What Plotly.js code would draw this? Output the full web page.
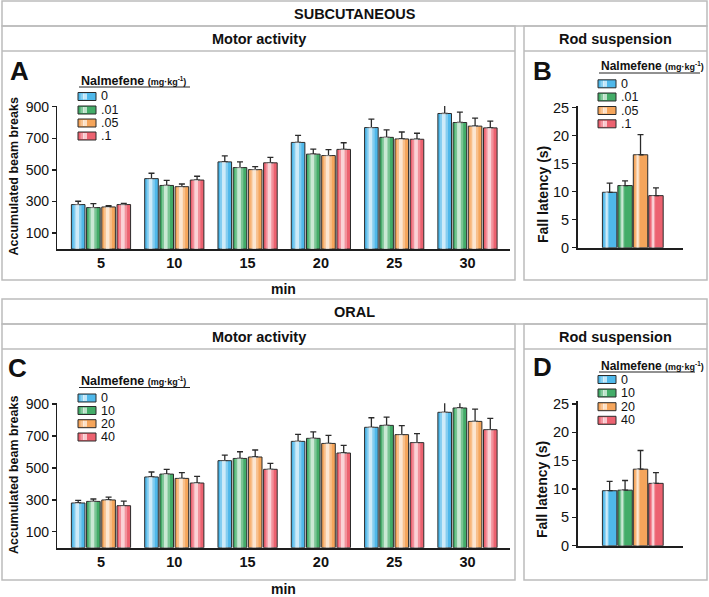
<!DOCTYPE html>
<html><head><meta charset="utf-8">
<script src="https://cdn.plot.ly/plotly-3.0.1.min.js"></script>
<style>html,body{margin:0;padding:0;background:#fff}#chart{width:709px;height:597px}</style>
</head><body><div id="chart"></div>
<script>
// ---------- data ----------
const minutes = ['5','10','15','20','25','30'];
const scDoses = ['0','.01','.05','.1'];
const oralDoses = ['0','10','20','40'];

// Subcutaneous – motor activity (accumulated beam breaks), mean and SEM
const scMotor0   = [281,445,551,674,768,857];
const scMotor01  = [262,402,515,600,706,800];
const scMotor05  = [266,394,502,591,696,777];
const scMotor1   = [281,436,545,630,694,766];
const scMotorErr0  = [21,34,38,45,53,66];
const scMotorErr01 = [25,32,36,32,47,66];
const scMotorErr05 = [8,17,19,37,44,51];
const scMotorErr1  = [8,24,34,42,38,43];

// Subcutaneous – rod suspension (fall latency, s)
const scRod    = [9.9,11.1,16.6,9.3];
const scRodErr = [1.65,0.85,3.6,1.4];

// Oral – motor activity
const oralMotor0  = [280,443,545,666,754,848];
const oralMotor10 = [290,461,559,685,766,875];
const oralMotor20 = [299,434,568,653,708,791];
const oralMotor40 = [263,405,491,593,658,739];
const oralMotorErr0  = [16,31,35,44,60,71];
const oralMotorErr10 = [15,30,42,41,52,37];
const oralMotorErr20 = [18,36,44,51,56,77];
const oralMotorErr40 = [29,42,37,48,56,71];

// Oral – rod suspension
const oralRod    = [9.7,9.8,13.5,11.0];
const oralRodErr = [1.65,1.7,3.3,1.9];

const motorTicks = [100,300,500,700,900];
const rodTicks = [0,5,10,15,20,25];

// ---------- styling ----------
const W = 709, H = 597;
const fx = x => x / W;
const fy = y => 1 - y / H;
const FONT = 'Liberation Sans, Arial, sans-serif';
const colors = ['#4fb8ea','#43ac68','#f5a55b','#ec6270'];
const outline = '#2b2b2b';
const frameColor = '#bcbcbc';

const slot = 0.2074, bw = 0.1855;
const offs = [0,1,2,3].map(k => -0.4038 + slot * k);

function zeros(n){ return new Array(n).fill(0); }

const traces = [];
function motorPanel(xa, ya, vals, errs, names) {
  vals.forEach((v, k) => {
    traces.push({
      type:'bar', x: minutes, y: v, xaxis: xa, yaxis: ya, name: names[k],
      width: bw, offset: offs[k], cliponaxis: false, showlegend: false, hoverinfo:'skip',
      marker: {color: colors[k], line: {color: outline, width: 1}},
      error_y: {type:'data', symmetric:false, array: errs[k], arrayminus: zeros(v.length),
                color: outline, thickness: 1.3, width: 3}
    });
  });
  vals.forEach((v, k) => {
    traces.push({
      type:'bar', x: minutes, y: v, xaxis: xa, yaxis: ya, showlegend:false, hoverinfo:'skip',
      width: 0.11, offset: offs[k] + 0.028, cliponaxis:false,
      marker: {color:'rgba(255,255,255,0.3)', line:{width:0}}
    });
    traces.push({
      type:'bar', x: minutes, y: v, xaxis: xa, yaxis: ya, showlegend:false, hoverinfo:'skip',
      width: 0.05, offset: offs[k] + 0.055, cliponaxis:false,
      marker: {color:'rgba(255,255,255,0.6)', line:{width:0}}
    });
  });
}
function rodPanel(xa, ya, doses, vals, errs) {
  traces.push({
    type:'bar', x: doses, y: vals, xaxis: xa, yaxis: ya, showlegend:false, hoverinfo:'skip',
    width: 0.935, offset: -0.4675, cliponaxis:false,
    marker: {color: colors, line: {color: outline, width: 1}},
    error_y: {type:'data', symmetric:false, array: errs, arrayminus: zeros(vals.length),
              color: outline, thickness: 1.3, width: 3}
  });
  traces.push({
    type:'bar', x: doses, y: vals, xaxis: xa, yaxis: ya, showlegend:false, hoverinfo:'skip',
    width: 0.28, offset: -0.33, cliponaxis:false,
    marker: {color:'rgba(255,255,255,0.3)', line:{width:0}}
  });
  traces.push({
    type:'bar', x: doses, y: vals, xaxis: xa, yaxis: ya, showlegend:false, hoverinfo:'skip',
    width: 0.13, offset: -0.25, cliponaxis:false,
    marker: {color:'rgba(255,255,255,0.6)', line:{width:0}}
  });
}

motorPanel('x','y',[scMotor0,scMotor01,scMotor05,scMotor1],
  [scMotorErr0,scMotorErr01,scMotorErr05,scMotorErr1], scDoses);
rodPanel('x2','y2', scDoses, scRod, scRodErr);
motorPanel('x3','y3',[oralMotor0,oralMotor10,oralMotor20,oralMotor40],
  [oralMotorErr0,oralMotorErr10,oralMotorErr20,oralMotorErr40], oralDoses);
rodPanel('x4','y4', oralDoses, oralRod, oralRodErr);

// ---------- axes ----------
const motorX = (dom, anchor) => ({
  domain: dom, anchor: anchor, type:'category', range:[-0.596, 5.58],
  showline:true, linecolor:'#1e1e1e', linewidth:2, ticks:'', showgrid:false, zeroline:false,
  tickfont:{family:FONT, size:14.5, color:'#111', weight:'bold'}, fixedrange:true
});
const motorY = (dom, anchor) => ({
  domain: dom, anchor: anchor, range:[0,905], tickvals: motorTicks,
  showline:true, linecolor:'#1e1e1e', linewidth:1.5, ticks:'outside', ticklen:4, tickwidth:1.5,
  tickcolor:'#1e1e1e', showgrid:false, zeroline:false,
  tickfont:{family:FONT, size:14, color:'#111'}, fixedrange:true
});
const rodX = (dom, anchor) => ({
  domain: dom, anchor: anchor, type:'category', range:[-2.08, 4.77],
  showline:true, linecolor:'#1e1e1e', linewidth:2, ticks:'', showticklabels:false,
  showgrid:false, zeroline:false, fixedrange:true
});
const rodY = (dom, anchor, top) => ({
  domain: dom, anchor: anchor, range:[0, top], tickvals: rodTicks,
  showline:true, linecolor:'#1e1e1e', linewidth:1.5, ticks:'outside', ticklen:4, tickwidth:1.5,
  tickcolor:'#1e1e1e', showgrid:false, zeroline:false,
  tickfont:{family:FONT, size:14.5, color:'#111'}, fixedrange:true
});

// ---------- shapes ----------
const shapes = [];
function rect(x0,y0,x1,y1, opts) {
  shapes.push(Object.assign({type:'rect', xref:'paper', yref:'paper',
    x0:fx(x0), x1:fx(x1), y0:fy(y1), y1:fy(y0), line:{color:frameColor, width:1.5}}, opts||{}));
}
function line(x0,y0,x1,y1,color,width) {
  shapes.push({type:'line', xref:'paper', yref:'paper', x0:fx(x0), x1:fx(x1), y0:fy(y0), y1:fy(y1),
    line:{color:color||frameColor, width:width||1.5}});
}
[[1,26,280],[299,324,580]].forEach(([t,m,b]) => {
  rect(2,t,707,m);
  rect(2,m,515,b); line(2,m+25,515,m+25);
  rect(524,m,707,b); line(524,m+25,707,m+25);
});

// ---------- annotations ----------
const annotations = [];
function txt(text, x, y, size, opts) {
  annotations.push(Object.assign({xref:'paper', yref:'paper', x:fx(x), y:fy(y), text:text,
    showarrow:false, xanchor:'center', yanchor:'middle',
    font:{family:FONT, size:size, color:'#111'}}, opts||{}));
}
// headers
txt('<b>SUBCUTANEOUS</b>', 354.5, 14, 14.5);
txt('<b>Motor activity</b>', 258.5, 38.5, 14.5);
txt('<b>Rod suspension</b>', 615.5, 38.5, 14.5);
txt('<b>ORAL</b>', 354.5, 312, 14.5);
txt('<b>Motor activity</b>', 258.5, 337, 14.5);
txt('<b>Rod suspension</b>', 615.5, 337, 14.5);
// panel letters
txt('<b>A</b>', 8, 70.5, 26, {xanchor:'left'});
txt('<b>B</b>', 531, 71, 26, {xanchor:'left'});
txt('<b>C</b>', 6, 368, 26, {xanchor:'left'});
txt('<b>D</b>', 531, 367.5, 26, {xanchor:'left'});
// axis titles
txt('<b>Accumulated beam breaks</b>', 14, 176.5, 12.5, {textangle:-90});
txt('<b>Accumulated beam breaks</b>', 14, 475, 12.5, {textangle:-90});
txt('<b>Fall latency (s)</b>', 543, 195, 14, {textangle:-90});
txt('<b>Fall latency (s)</b>', 542, 490, 14, {textangle:-90});
txt('<b>min</b>', 283, 289, 14);
txt('<b>min</b>', 283, 589, 14);

// legends
const legTitle = '<b>Nalmefene</b> <b><span style="font-size:9px">(mg·kg<sup>-1</sup>)</span></b>';
function legend(x, yTitle, rows, labels, size, ulEnd) {
  txt(legTitle, x, yTitle, size, {xanchor:'left'});
  line(x, yTitle + 6.5, ulEnd, yTitle + 6.5, '#222', 1);
  labels.forEach((lab, k) => {
    const yc = rows[k];
    rect(x - 1, yc - 4, x + 17, yc + 4, {fillcolor: colors[k], line:{color:outline, width:1}});
    rect(x + 1.5, yc - 3, x + 5, yc + 3, {fillcolor:'rgba(255,255,255,0.35)', line:{width:0}});
    rect(x + 4, yc - 3, x + 8, yc + 3, {fillcolor:'rgba(255,255,255,0.65)', line:{width:0}});
    txt(lab, x + 19.5, yc, 12.5, {xanchor:'left'});
  });
}
legend(79, 80.5, [96.5,110,123,136], scDoses, 12.5, 190);
legend(599, 66.5, [83.8,97,110.5,123.8], scDoses, 12, 700);
legend(79, 381, [398,410.5,423.7,437], oralDoses, 12.5, 190);
legend(599, 365.5, [379.5,393,406.7,420.3], oralDoses, 12, 695);

const layout = {
  width: W, height: H, autosize:false, margin:{l:0,r:0,t:0,b:0,pad:0},
  paper_bgcolor:'#fff', plot_bgcolor:'rgba(0,0,0,0)',
  barmode:'overlay', showlegend:false, font:{family:FONT},
  xaxis: motorX([fx(57.3), fx(510)], 'y'),
  yaxis: motorY([fy(249), fy(105.9)], 'x'),
  xaxis2: rodX([fx(577.5), fx(683.3)], 'y2'),
  yaxis2: rodY([fy(247.7), fy(105.5)], 'x2', 25.4),
  xaxis3: motorX([fx(57.3), fx(510)], 'y3'),
  yaxis3: motorY([fy(547.7), fy(403.2)], 'x3'),
  xaxis4: rodX([fx(577.5), fx(683.3)], 'y4'),
  yaxis4: rodY([fy(545.7), fy(400.6)], 'x4', 25.6),
  shapes: shapes, annotations: annotations
};
Plotly.newPlot('chart', traces, layout, {displayModeBar:false, staticPlot:true});
</script>
</body></html>
